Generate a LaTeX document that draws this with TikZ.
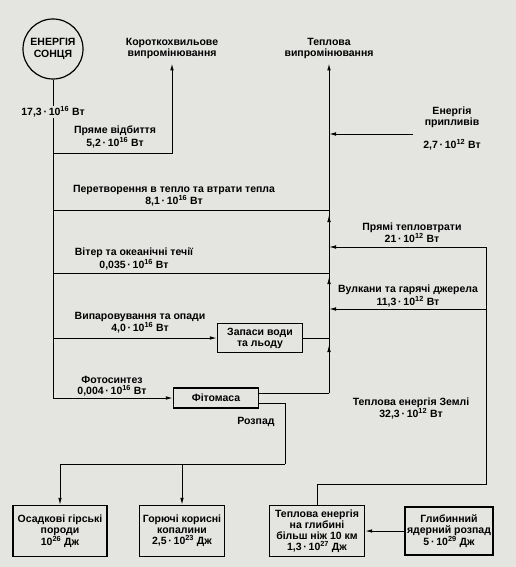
\documentclass[tikz,border=0pt]{standalone}
\usepackage{fontspec}
\setmainfont{Liberation Sans}
\usetikzlibrary{arrows.meta, positioning}
\definecolor{paper}{RGB}{228,228,225}
\newcommand{\tenpow}[1]{\,·\,10\textsuperscript{#1}}

\begin{document}
\begin{tikzpicture}[
    x=1pt, y=-1pt,
    font=\fontsize{10.5}{11}\selectfont\bfseries,
    box/.style={rectangle, draw, line width=1.2pt, align=center, inner sep=2pt},
    lbl/.style={align=center, inner sep=1pt},
    wire/.style={line width=1pt},
    flow/.style={-{Latex[length=7pt,width=3.6pt]}, line width=1pt}
]
    \useasboundingbox (0,0) rectangle (516,567);
    \fill[paper] (0,0) rectangle (516,567);

    % sources and sinks at the top
    \node[circle, draw, line width=1.2pt, minimum size=60pt, inner sep=0pt, align=center,
          font=\fontsize{10.5}{11.5}\selectfont\bfseries] (sun) at (53,49) {ЕНЕРГІЯ\\СОНЦЯ};
    \node[lbl] (shortwave) at (172,48) {Короткохвильове\\випромінювання};
    \node[lbl] (thermal) at (329,48) {Теплова\\випромінювання};

    % boxes
    \node[box, minimum width=85pt, minimum height=29pt] (water) at (260,338) {Запаси води\\та льоду};
    \node[box, minimum width=85pt, minimum height=20pt] (fito) at (216,398) {Фітомаса};
    \node[box, minimum width=94pt, minimum height=51pt] (sed) at (60,531) {Осадкові гірські\\породи\\10\textsuperscript{26} Дж};
    \node[box, minimum width=85pt, minimum height=51pt] (fuel) at (182,531) {Горючі корисні\\копалини\\2,5\tenpow{23} Дж};
    \node[box, minimum width=95pt, minimum height=51pt] (deep) at (317,531) {Теплова енергія\\на глибині\\більш ніж 10 км\\1,3\tenpow{27} Дж};
    \node[box, minimum width=86pt, minimum height=48pt] (nuclear) at (449,531) {Глибинний\\ядерний розпад\\5\tenpow{29} Дж};

    % branch points
    \coordinate (refl) at (53,153);
    \coordinate (conv) at (53,210);
    \coordinate (wind) at (53,273);
    \coordinate (evap) at (53,338);
    \coordinate (hub) at (329,393);
    \coordinate (tideend) at (413,134);
    \coordinate (loss) at (486,247);
    \coordinate (volc) at (486,309);
    \coordinate (split) at (285,464);

    % solar flows
    \draw[flow] (sun) |- (fito);
    \draw[flow, shorten >=4pt] (refl) -| (shortwave);
    \draw[wire] (conv) -- (conv -| thermal);
    \draw[wire] (wind) -- (wind -| thermal);
    \draw[flow] (evap) -- (water);
    \draw[wire] (water) -- (water -| thermal);
    \draw[wire] ([yshift=5pt]fito.east) -- (hub);

    % heat trunk
    \draw[wire] (hub) -- (conv -| thermal);
    \draw[flow, shorten >=7pt] (hub) -- (water -| thermal);
    \draw[flow, shorten >=4pt] (water -| thermal) -- (wind -| thermal);
    \draw[flow, shorten >=5pt] (wind -| thermal) -- (conv -| thermal);
    \draw[flow, shorten >=4pt] (conv -| thermal) -- (thermal);

    % earth flows
    \draw[flow] (tideend) -- (tideend -| thermal);
    \draw[flow] (deep.north) -- ++(0,-20) -| (loss) -- (loss -| thermal);
    \draw[flow] (volc) -- (volc -| thermal);
    \draw[flow] (nuclear) -- (deep);

    % decay
    \draw[wire] ([yshift=-5pt]fito.east) -| (split);
    \draw[flow] (split) -| (sed.north);
    \draw[flow] (split -| fuel.north) -- (fuel.north);

    % labels
    \node[lbl, fill=paper] (insol) at (53,112) {17,3\tenpow{16} Вт};
    \node[lbl] (refllbl) at (115,137) {Пряме відбиття\\5,2\tenpow{16} Вт};
    \node[lbl] (convlbl) at (174,196) {Перетворення в тепло та втрати тепла\\8,1\tenpow{16} Вт};
    \node[lbl] (windlbl) at (134,259) {Вітер та океанічні течії\\0,035\tenpow{16} Вт};
    \node[lbl] (evaplbl) at (140,323) {Випаровування та опади\\4,0\tenpow{16} Вт};
    \node[lbl] (photolbl) at (112,386.5) {Фотосинтез\\0,004\tenpow{16} Вт};
    \node[lbl] (tides) at (452,117.5) {Енергія\\припливів};
    \node[lbl] (tidesval) at (452,145) {2,7\tenpow{12} Вт};
    \node[lbl] (losslbl) at (412,232.5) {Прямі тепловтрати\\21\tenpow{12} Вт};
    \node[lbl] (volclbl) at (408,296) {Вулкани та гарячі джерела\\11,3\tenpow{12} Вт};
    \node[lbl] (earthlbl) at (411,408.5) {Теплова енергія Землі\\32,3\tenpow{12} Вт};
    \node[lbl] (decaylbl) at (256,422) {Розпад};
\end{tikzpicture}
\end{document}
